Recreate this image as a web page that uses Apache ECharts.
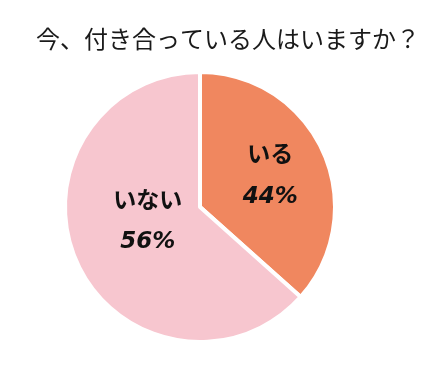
<!DOCTYPE html>
<html><head><meta charset="utf-8">
<script src="https://cdn.jsdelivr.net/npm/echarts@6/dist/echarts.min.js"></script>
<style>html,body{margin:0;padding:0;background:#fff}#c{width:439px;height:372px}</style>
</head><body><div id="c"></div>
<script>
// Data
const titleText = '今、付き合っている人はいますか？';
const categories = ['いる', 'いない'];
// slice sizes as drawn in the picture (angle of the boundary)
const sliceValues = [36.6, 63.4];
// percentages printed on the slices
const percentLabels = ['44%', '56%'];
const colors = ['#F0875F', '#F7C6CF'];

const chart = echarts.init(document.getElementById('c'), null, {renderer: 'canvas'});
chart.setOption({
  animation: false,
  title: {
    text: titleText,
    left: 31, top: 22,
    textStyle: {fontFamily: 'Noto Sans CJK JP', fontSize: 24, fontWeight: 'normal', color: '#1a1a1a'}
  },
  series: [{
    type: 'pie',
    center: [200, 207],
    radius: [0, 135],
    startAngle: 90,
    clockwise: true,
    label: {
      show: true,
      position: 'inside',
      formatter: p => '{n|' + p.name + '}\n{v|' + percentLabels[p.dataIndex] + '}',
      rich: {
        n: {fontFamily: 'Noto Sans CJK JP', fontWeight: 'bold', fontSize: 23, lineHeight: 43, color: '#111'},
        v: {fontFamily: 'DejaVu Sans', fontWeight: 'bold', fontStyle: 'italic', fontSize: 23, lineHeight: 43, color: '#111'}
      }
    },
    labelLine: {show: false},
    itemStyle: {borderColor: '#fff', borderWidth: 4},
    emphasis: {disabled: true},
    data: categories.map((c, i) => ({
      name: c, value: sliceValues[i],
      itemStyle: {color: colors[i]},
      label: {offset: i === 0 ? [6, -3] : [12, -15]}
    }))
  }]
});
</script></body></html>
